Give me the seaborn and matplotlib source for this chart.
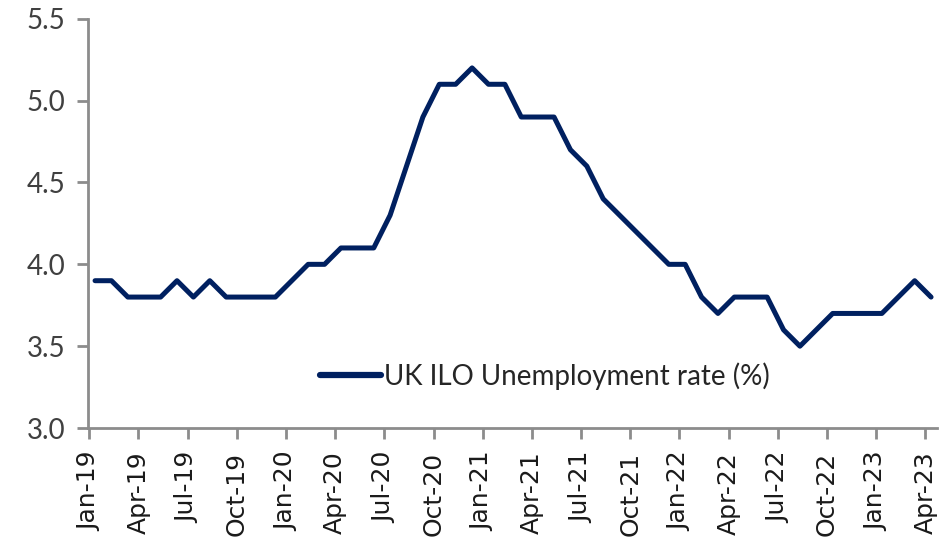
import matplotlib
matplotlib.use("Agg")
import matplotlib.pyplot as plt
from matplotlib import font_manager
import seaborn as sns
import pandas as pd
import numpy as np

months = pd.date_range("2019-01-01", "2023-04-01", freq="MS")
rate = [3.9, 3.9, 3.8, 3.8, 3.8, 3.9, 3.8, 3.9, 3.8, 3.8, 3.8, 3.8,
        3.9, 4.0, 4.0, 4.1, 4.1, 4.1, 4.3, 4.6, 4.9, 5.1, 5.1, 5.2,
        5.1, 5.1, 4.9, 4.9, 4.9, 4.7, 4.6, 4.4, 4.3, 4.2, 4.1, 4.0,
        4.0, 3.8, 3.7, 3.8, 3.8, 3.8, 3.6, 3.5, 3.6, 3.7, 3.7, 3.7,
        3.7, 3.8, 3.9, 3.8]
series_name = "UK ILO Unemployment rate (%)"
y_ticks = [3.0, 3.5, 4.0, 4.5, 5.0, 5.5]

labels = [d.strftime("%b-%y") for d in months]
df = pd.DataFrame({"idx": np.arange(len(rate)), "rate": rate, "series": series_name})

sns.set_theme(style="white")
plt.rcParams["font.family"] = ["Lato", "DejaVu Sans"]

fig = plt.figure(figsize=(9.53, 5.53), dpi=100)
ax = fig.add_axes([0.092, 0.226, 0.891, 0.740])

sns.lineplot(data=df, x="idx", y="rate", hue="series", palette=["#002060"],
             linewidth=3.6, ax=ax)

ax.set_xlim(-0.45, 51.35)
ax.set_ylim(3.0, 5.5)
ax.set_xlabel("")
ax.set_ylabel("")

for s in ["top", "right"]:
    ax.spines[s].set_visible(False)
for s in ["left", "bottom"]:
    ax.spines[s].set_color("#8c8c8c")
    ax.spines[s].set_linewidth(2)

ax.tick_params(axis="both", which="major", direction="out", length=8, width=2,
               color="#8c8c8c", bottom=True, left=True)
ax.tick_params(axis="y", pad=8)
ax.tick_params(axis="x", pad=9)

ax.set_yticks(y_ticks)
ax.set_yticklabels([f"{v:.1f}" for v in y_ticks], fontsize=20, color="#404040")

tick_idx = list(range(0, len(rate), 3))
ax.set_xticks([i - 0.35 for i in tick_idx])
fp_x = font_manager.FontProperties(family="DejaVu Sans", size=18)
ax.set_xticklabels([labels[i] for i in tick_idx], rotation=90,
                   fontproperties=fp_x, color="#1a1a1a")

leg = ax.legend(loc="center", bbox_to_anchor=(0.538, 0.127), frameon=False,
                fontsize=20, handlelength=2.2, handletextpad=0.1)
for t in leg.get_texts():
    t.set_color("#262626")
for h in leg.get_lines():
    h.set_linewidth(4.5)

fig.savefig("out.png", dpi=100)
